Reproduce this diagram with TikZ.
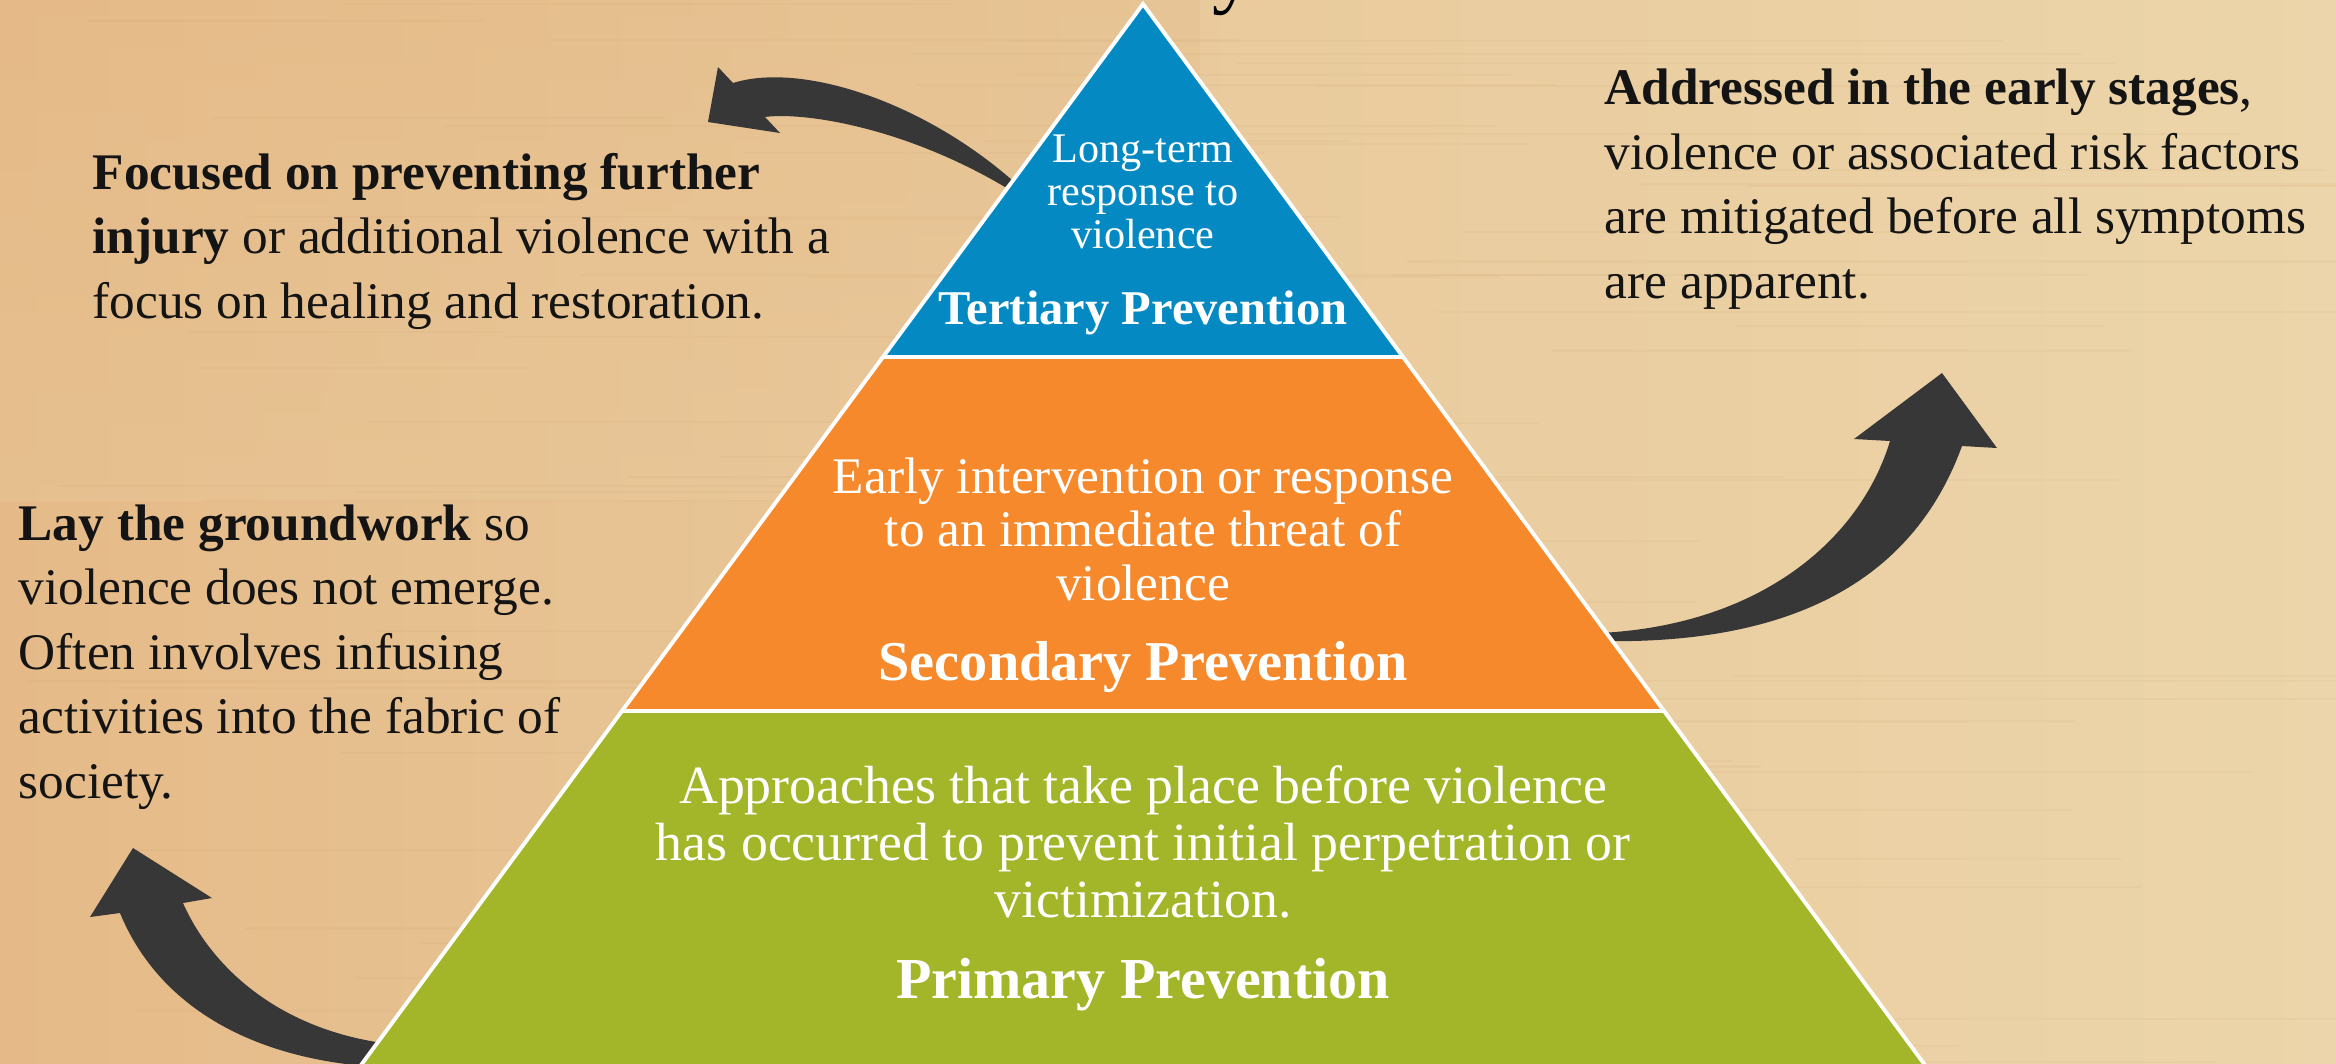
\documentclass[tikz,border=0pt]{standalone}
\usepackage{fontspec}
\setmainfont{Liberation Serif}
\definecolor{tertblue}{RGB}{4,137,195}
\definecolor{secorange}{RGB}{246,137,43}
\definecolor{primgreen}{RGB}{163,182,42}
\definecolor{arrowgrey}{RGB}{55,55,55}
\definecolor{bgleft}{RGB}{229,186,136}
\definecolor{bgmid}{RGB}{233,202,156}
\definecolor{bgright}{RGB}{236,213,170}
\definecolor{streak}{RGB}{190,140,90}
\begin{document}
\begin{tikzpicture}[x=0.01cm,y=-0.01cm,
  sidetext/.style={anchor=base west,align=left,inner sep=0pt,text=black!92,
    font=\fontsize{14.6}{18.3}\selectfont},
  pyrsmall/.style={anchor=base,align=center,inner sep=0pt,text=white},
  pyrtitle/.style={anchor=base,align=center,inner sep=0pt,text=white,font=\bfseries},
  layer/.style={draw=white,line width=1.1pt,line join=miter},
  bigarrow/.style={fill=arrowgrey,draw=none}]
\useasboundingbox (0,0) rectangle (2336,1063);
% background
\shade[left color=bgleft,right color=bgright,middle color=bgmid] (0,0) rectangle (2336,1063);
\shade[top color=bgleft,bottom color=bgmid,opacity=0.35] (0,0) rectangle (1200,500);
\pgfmathsetseed{7}
\foreach \i in {1,...,70}{
  \pgfmathsetmacro{\yy}{rnd*1063}
  \pgfmathsetmacro{\xa}{rnd*1800}
  \pgfmathsetmacro{\ww}{300+rnd*900}
  \draw[streak,opacity=0.07,line width=0.6pt] (\xa,\yy) -- ++(\ww,0);
}
% partial title letter at top edge
\node[anchor=base west,inner sep=0pt,font=\fontsize{24}{28}\selectfont,text=black] (titley) at (1212,-3) {y};
% arrows (drawn before the pyramid so their tails tuck under it)
\fill[bigarrow] (733,83) -- (718,67) -- (708,122) -- (780,133) -- (765,117)
  .. controls (800,112) and (900,125) .. (1005,187) -- (1012,180)
  .. controls (920,100) and (800,62) .. (733,83) -- cycle;
\fill[bigarrow] (120,913) -- (90,917) -- (133,848) -- (212,898) -- (183,903)
  .. controls (215,975) and (290,1035) .. (400,1045) -- (400,1068)
  .. controls (260,1065) and (160,1010) .. (120,913) -- cycle;
\fill[bigarrow] (1890,441) -- (1854,439) -- (1942,373) -- (1997,448) -- (1962,446)
  .. controls (1915,575) and (1800,645) .. (1600,641) -- (1600,633)
  .. controls (1760,625) and (1860,540) .. (1890,441) -- cycle;
% pyramid
\coordinate (apex) at (1143,4);
\filldraw[layer,fill=tertblue] (apex) -- (1403,357) -- (883,357) -- cycle;
\filldraw[layer,fill=secorange] (883,357) -- (1403,357) -- (1664,711) -- (622,711) -- cycle;
\filldraw[layer,fill=primgreen] (622,711) -- (1664,711) -- (1936,1080) -- (350,1080) -- cycle;
% pyramid texts (anchor = baseline of the last line)
\node[pyrsmall,font=\fontsize{12}{12.2}\selectfont] (tertdesc) at (1143,248)
  {Long-term\\response to\\violence};
\node[pyrtitle,font=\fontsize{13.8}{15}\selectfont\bfseries] (terttitle) at (1143,324) {Tertiary Prevention};
\node[pyrsmall,font=\fontsize{14.6}{15.1}\selectfont] (secdesc) at (1143,600)
  {Early intervention or response\\to an immediate threat of\\violence};
\node[pyrtitle,font=\fontsize{16}{18}\selectfont\bfseries] (sectitle) at (1143,680) {Secondary Prevention};
\node[pyrsmall,font=\fontsize{15.3}{16.2}\selectfont] (primdesc) at (1143,917)
  {Approaches that take place before violence\\has occurred to prevent initial perpetration or\\victimization.};
\node[pyrtitle,font=\fontsize{16.5}{18}\selectfont\bfseries] (primtitle) at (1143,998) {Primary Prevention};
% side texts (anchor = baseline of the last line)
\node[sidetext] (terttext) at (92,318)
  {\textbf{Focused on preventing further}\\\textbf{injury} or additional violence with a\\focus on healing and restoration.};
\node[sidetext] (sectext) at (1604,298)
  {\textbf{Addressed in the early stages},\\violence or associated risk factors\\are mitigated before all symptoms\\are apparent.};
\node[sidetext] (primtext) at (18,798)
  {\textbf{Lay the groundwork} so\\violence does not emerge.\\Often involves infusing\\activities into the fabric of\\society.};
\end{tikzpicture}
\end{document}
